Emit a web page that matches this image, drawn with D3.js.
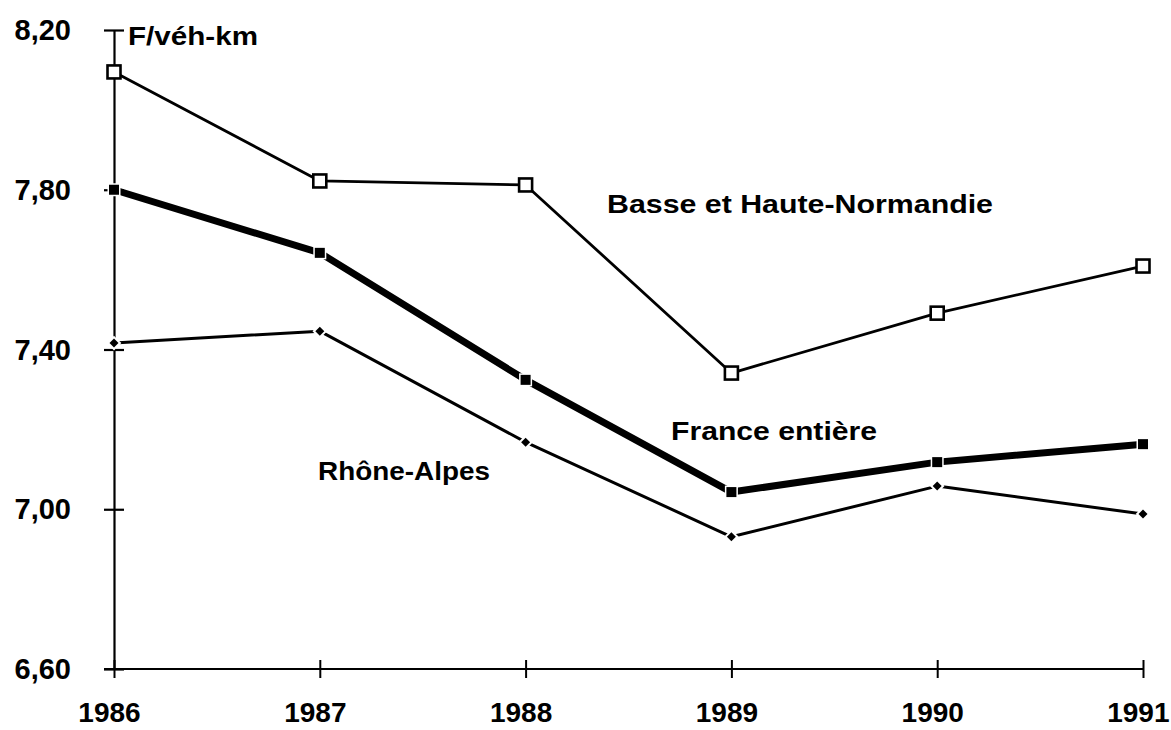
<!DOCTYPE html>
<html>
<head>
<meta charset="utf-8">
<script src="https://cdn.jsdelivr.net/npm/d3@7"></script>
<style>
  body { margin: 0; background: #fff; }
  text { font-family: "Liberation Sans", Arial, sans-serif; font-weight: bold; fill: #000; }
</style>
</head>
<body>
<svg id="chart" width="1171" height="730"></svg>
<script>
// years on the x axis
const years = [1986, 1987, 1988, 1989, 1990, 1991];
// F/véh-km
const normandie = [8.095, 7.822, 7.812, 7.341, 7.491, 7.609];
const france = [7.80, 7.642, 7.324, 7.043, 7.118, 7.163];
const rhone = [7.416, 7.446, 7.168, 6.931, 7.058, 6.988];
const yTicks = [6.60, 7.00, 7.40, 7.80, 8.20];

const svg = d3.select("#chart");

const x = d3.scaleLinear().domain([1986, 1991]).range([114, 1143]);
const y = d3.scaleLinear().domain([6.60, 8.20]).range([669, 30]);

const fmt = d => d.toFixed(2).replace(".", ",");

// y axis
const yAxis = d3.axisLeft(y)
  .tickValues(yTicks)
  .tickFormat(fmt)
  .tickSizeInner(10)
  .tickSizeOuter(0)
  .tickPadding(33);
const gy = svg.append("g").attr("transform", "translate(114,0)").call(yAxis);
gy.select(".domain").attr("stroke-width", 2.2);
gy.selectAll(".tick line").attr("x1", -10).attr("x2", 10).attr("stroke-width", 2.2);
gy.selectAll(".tick text").style("font-size", "29px").attr("dy", "0.33em");

// x axis
const xAxis = d3.axisBottom(x)
  .tickValues(years)
  .tickFormat(d3.format("d"))
  .tickSizeInner(9)
  .tickSizeOuter(0)
  .tickPadding(24);
const gx = svg.append("g").attr("transform", "translate(0,669)").call(xAxis);
gx.select(".domain").attr("stroke-width", 2.2).attr("d", "M104,0H1143");
gx.selectAll(".tick line").attr("y1", -9).attr("y2", 9).attr("stroke-width", 2);
gx.selectAll(".tick text").style("font-size", "28px").attr("dx", -5);
// last year label would run past the right edge
gx.selectAll(".tick text").filter(d => d === 1991).attr("text-anchor", "end").attr("dx", 26);

// stretched label text, like the original's wide bitmap font
function label(str, px, py, width) {
  svg.append("text").attr("x", px).attr("y", py)
    .style("font-size", "26px")
    .attr("textLength", width)
    .attr("lengthAdjust", "spacingAndGlyphs")
    .text(str);
}

// unit label
label("F/véh-km", 128, 45, 130);

function series(vals, width, marker) {
  const data = years.map((yr, i) => [yr, vals[i]]);
  const line = d3.line().x(d => x(d[0])).y(d => y(d[1]));
  svg.append("path").datum(data)
    .attr("d", line)
    .attr("fill", "none")
    .attr("stroke", "#000")
    .attr("stroke-width", width)
    .attr("stroke-linejoin", "round");
  const g = svg.append("g");
  data.forEach(d => {
    const cx = x(d[0]), cy = y(d[1]);
    if (marker === "open") {
      g.append("rect").attr("x", cx - 6.5).attr("y", cy - 6.5).attr("width", 13).attr("height", 13)
        .attr("fill", "#fff").attr("stroke", "#000").attr("stroke-width", 2.6);
    } else if (marker === "filled") {
      g.append("rect").attr("x", cx - 5).attr("y", cy - 5).attr("width", 10).attr("height", 10)
        .attr("fill", "#000").attr("stroke", "#fff").attr("stroke-width", 3).attr("paint-order", "stroke");
    } else {
      g.append("path").attr("d", `M${cx},${cy - 4.5}L${cx + 4.5},${cy}L${cx},${cy + 4.5}L${cx - 4.5},${cy}Z`)
        .attr("fill", "#000").attr("stroke", "#fff").attr("stroke-width", 4).attr("paint-order", "stroke");
    }
  });
}

series(rhone, 3, "diamond");
series(france, 7, "filled");
series(normandie, 2.8, "open");

// series labels
label("Basse et Haute-Normandie", 607, 213, 386);
label("France entière", 671, 440, 206);
label("Rhône-Alpes", 318, 480, 172);
</script>
</body>
</html>
